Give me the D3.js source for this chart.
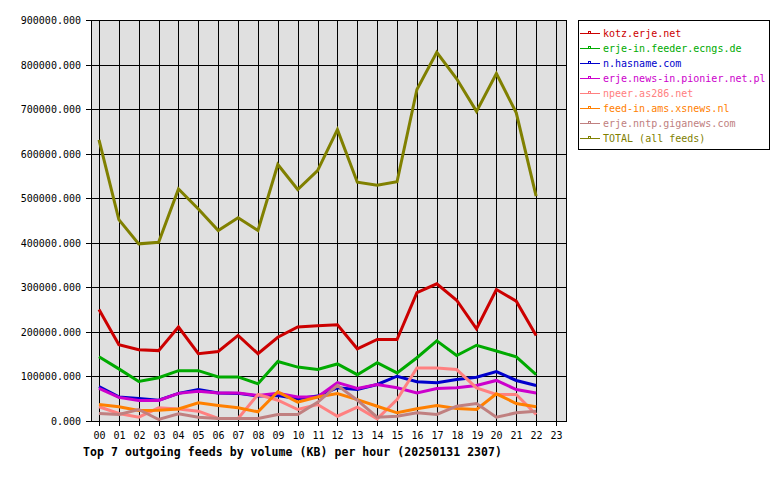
<!DOCTYPE html>
<html><head><meta charset="utf-8">
<script src="https://cdn.jsdelivr.net/npm/d3@7"></script>
<style>body{margin:0;background:#fff}svg{display:block}</style>
</head><body>
<svg id="c" width="780" height="480"></svg>
<script>
const hours = ["00","01","02","03","04","05","06","07","08","09","10","11","12","13","14","15","16","17","18","19","20","21","22","23"];
const seriesNames = ["kotz.erje.net","erje-in.feeder.ecngs.de","n.hasname.com","erje.news-in.pionier.net.pl","npeer.as286.net","feed-in.ams.xsnews.nl","erje.nntp.giganews.com","TOTAL (all feeds)"];
const seriesColors = ["#cc0000","#00aa00","#0000cc","#cc00cc","#ff8080","#ff8000","#c08080","#808000"];
const kotz    = [250000,171000,160000,158000,211000,151000,156000,192000,151000,188000,211000,214000,216000,162000,183000,183000,288000,308000,271000,207000,295000,269000,192000];
const ecngs   = [144000,117000,88600,97000,113000,113000,99000,99000,83500,133500,121000,115500,128000,104000,131000,108000,142000,180000,147000,170000,157000,144000,104000];
const hasname = [77000,54000,50500,46700,62000,70700,63000,62000,56000,57000,50000,56000,74500,70700,82000,100500,88000,85700,93000,98300,111000,91000,79700];
const pionier = [73000,53000,46000,46000,62000,67000,63000,63000,57000,62000,54000,54000,86000,73000,82000,74500,63000,73000,74500,79700,91000,70700,63000];
const as286   = [32000,17000,8500,29600,27000,22000,5600,5600,59500,46700,25800,37000,10800,31000,5000,48000,119000,119000,115500,74500,59500,59500,14600];
const xsnews  = [37000,32000,23500,24000,27000,40800,34800,29600,20600,65500,42200,54000,61700,48000,33200,18400,27400,34800,28000,25800,61000,39300,32000];
const giganews= [17000,14600,25800,3400,16000,8500,5600,5600,5600,14600,14600,42000,80000,46700,8500,10800,18400,14600,33200,39300,8500,18400,22000];
const total   = [631000,452000,397600,401000,521000,476000,427500,456000,427500,575600,519500,562000,654000,536000,529000,537000,744000,827600,768000,695000,780000,691600,504500];
const yTicks = [0,100000,200000,300000,400000,500000,600000,700000,800000,900000];
const titleText = "Top 7 outgoing feeds by volume (KB) per hour (20250131 2307)";

const allSeries = [kotz, ecngs, hasname, pionier, as286, xsnews, giganews, total];

const svg = d3.select("#c");
const L = 91, R = 567, T = 20, B = 421;
const x = d3.scaleLinear().domain([0, 23]).range([99, 556]);
const y = d3.scaleLinear().domain([0, 900000]).range([B, T]);
const font = "'DejaVu Sans Mono', 'Liberation Mono', monospace";

svg.append("rect").attr("x", L).attr("y", T).attr("width", R - L).attr("height", B - T).attr("fill", "#e0e0e0");

const grid = svg.append("g").attr("shape-rendering", "crispEdges").attr("stroke", "#000").attr("stroke-width", 1);
yTicks.forEach(v => {
  const yy = Math.round(y(v)) + 0.5;
  grid.append("line").attr("x1", L - 5).attr("x2", R).attr("y1", yy).attr("y2", yy);
});
hours.forEach((h, i) => {
  const xx = Math.round(x(i)) + 0.5;
  grid.append("line").attr("x1", xx).attr("x2", xx).attr("y1", T).attr("y2", B + 5);
});
svg.append("rect").attr("x", L + 0.5).attr("y", T + 0.5).attr("width", R - L - 1).attr("height", B - T)
  .attr("fill", "none").attr("stroke", "#000").attr("shape-rendering", "crispEdges");

svg.append("g").selectAll("text").data(yTicks).join("text")
  .attr("x", 81).attr("y", d => Math.round(y(d)) + 4)
  .attr("text-anchor", "end").attr("font-family", font).attr("font-size", "10px").attr("fill", "#000")
  .text(d => d3.format(".3f")(d));

svg.append("g").selectAll("text").data(hours).join("text")
  .attr("x", (d, i) => Math.round(x(i)) + 0.5).attr("y", 439)
  .attr("text-anchor", "middle").attr("font-family", font).attr("font-size", "10px").attr("fill", "#000")
  .text(d => d);

const line = d3.line().x((d, i) => x(i)).y(d => y(d));
allSeries.forEach((s, k) => {
  svg.append("path").attr("d", line(s)).attr("fill", "none")
    .attr("stroke", seriesColors[k]).attr("stroke-width", 3).attr("stroke-linejoin", "miter");
});

svg.append("text").attr("x", 83).attr("y", 456).attr("font-family", font).attr("font-weight", "bold")
  .attr("font-size", "11.5px").attr("fill", "#000")
  .attr("textLength", 419).attr("lengthAdjust", "spacing").text(titleText);

const lg = svg.append("g");
lg.append("rect").attr("x", 578.5).attr("y", 20.5).attr("width", 191).attr("height", 129)
  .attr("fill", "#fff").attr("stroke", "#000").attr("shape-rendering", "crispEdges");
seriesNames.forEach((n, k) => {
  const yy = 33 + k * 15;
  lg.append("line").attr("x1", 580).attr("x2", 600).attr("y1", yy + 0.5).attr("y2", yy + 0.5)
    .attr("stroke", seriesColors[k]).attr("shape-rendering", "crispEdges");
  lg.append("rect").attr("x", 588.5).attr("y", yy - 1.5).attr("width", 2).attr("height", 2)
    .attr("fill", "none").attr("stroke", seriesColors[k]).attr("shape-rendering", "crispEdges");
  lg.append("text").attr("x", 603).attr("y", yy + 4).attr("font-family", font).attr("font-size", "10px")
    .attr("fill", seriesColors[k]).text(n);
});
</script>
</body></html>
